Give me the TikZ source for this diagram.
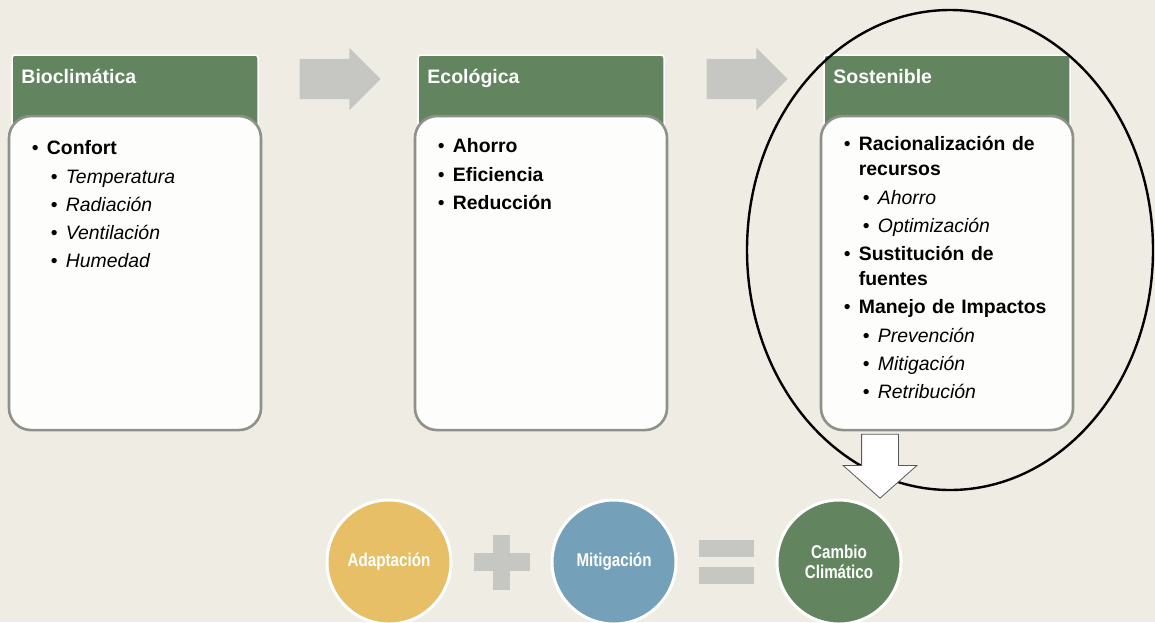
\documentclass[tikz,border=0pt]{standalone}
\usepackage{fontspec}
\setmainfont{Liberation Sans}
\newfontfamily\narrowsans[FakeStretch=0.82]{Liberation Sans}
\usetikzlibrary{positioning,calc,shapes.arrows}
\definecolor{paper}{HTML}{EFECE4}
\definecolor{leaf}{HTML}{62855F}
\definecolor{rim}{HTML}{8E908A}
\definecolor{ash}{HTML}{C6C6C3}
\definecolor{sun}{HTML}{E6BF66}
\definecolor{sky}{HTML}{74A0BA}
\definecolor{sheet}{HTML}{FDFDFB}
\newcommand{\mainpoint}[1]{\makebox[15pt][l]{\textbullet}\textbf{#1}}
\newcommand{\mainwrap}[1]{\hspace*{15pt}\textbf{#1}}
\newcommand{\subpoint}[1]{\hspace*{19pt}\makebox[15pt][l]{\textbullet}\textit{#1}}

\begin{document}
\begin{tikzpicture}[x=1pt,y=-1pt,
  head/.style={draw=white,line width=1.5pt,fill=leaf,rounded corners=3pt,
               minimum width=246pt,minimum height=75pt,inner sep=0pt},
  htxt/.style={text=white,font=\bfseries\fontsize{19.5}{22}\selectfont,
               inner sep=0pt,anchor=base west},
  body/.style={draw=rim,line width=2.6pt,rounded corners=22pt,fill=sheet,
               minimum width=252pt,minimum height=314pt,inner sep=0pt},
  lst/.style={text width=228pt,align=left,inner sep=0pt,anchor=base west,
              font=\fontsize{19.4}{28.3}\selectfont},
  blk/.style={single arrow,fill=ash,minimum height=81pt,minimum width=62pt,
              single arrow head extend=11pt,inner sep=20pt},
  circ/.style={circle,draw=white,line width=3pt,minimum size=124pt,inner sep=0pt,
               text=white,align=center,font=\narrowsans\bfseries\fontsize{18.5}{20.5}\selectfont},
  bar/.style={fill=ash,inner sep=0pt}]
\useasboundingbox (0,0) rectangle (1155,622);
\clip (0,0) rectangle (1155,622);
\fill[paper] (0,0) rectangle (1155,622);
% header tabs, left to right
\node[head](bioH) at (135,92.5){};
\node[head,right=158.5pt of bioH](ecoH){};
\node[head,right=158.5pt of ecoH](sosH){};
\node[htxt] at ([shift={(10,29)}]bioH.north west){Bioclimática};
\node[htxt] at ([shift={(10,29)}]ecoH.north west){Ecológica};
\node[htxt] at ([shift={(10,29)}]sosH.north west){Sostenible};
% gray block arrows between the tabs
\node[blk](arA) at (330,79){};
\node[blk](arB) at (737,79){};
% list cards
\node[body,below=-16pt of bioH](bioB){};
\node[body,below=-16pt of ecoH](ecoB){};
\node[body,below=-16pt of sosH](sosB){};
\node[lst](bioL) at ([shift={(24,40)}]bioB.north west){%
  \mainpoint{Confort}\\ \subpoint{Temperatura}\\ \subpoint{Radiación}\\
  \subpoint{Ventilación}\\ \subpoint{Humedad}};
\node[lst](ecoL) at ([shift={(24,38)}]ecoB.north west){%
  \mainpoint{Ahorro}\\ \mainpoint{Eficiencia}\\ \mainpoint{Reducción}};
\node[lst](sosL) at ([shift={(24,36)}]sosB.north west){%
  \mainpoint{Racionalización de}\\[-3.3pt] \mainwrap{recursos}\\
  \subpoint{Ahorro}\\ \subpoint{Optimización}\\
  \mainpoint{Sustitución de}\\[-3.3pt] \mainwrap{fuentes}\\
  \mainpoint{Manejo de Impactos}\\ \subpoint{Prevención}\\
  \subpoint{Mitigación}\\ \subpoint{Retribución}};
% ring round the last stage, then the white arrow down
\draw[line width=2.4pt] (950,250) ellipse [x radius=203pt,y radius=240pt];
\node[single arrow,shape border rotate=270,fill=white,draw=black!65,line width=0.8pt,
      minimum height=64pt,minimum width=73pt,single arrow head extend=18.5pt,
      single arrow tip angle=97,inner sep=18pt](down) at (880,458){};
% bottom equation
\node[circ,fill=sun](adap) at (389,562){Adaptación};
\node[circ,fill=sky,right=98pt of adap](miti){Mitigación};
\node[circ,fill=leaf,right=98pt of miti](clim){Cambio\\Climático};
\node[bar,minimum width=17pt,minimum height=55pt](plusV) at ($(adap)!.5!(miti)$){};
\node[bar,minimum width=56pt,minimum height=18pt](plusH) at (plusV){};
\coordinate (eq) at ($(miti)!.5!(clim)$);
\node[bar,minimum width=55pt,minimum height=17pt](eqT) at ($(eq)+(0,-13.5)$){};
\node[bar,minimum width=55pt,minimum height=17pt](eqB) at ($(eq)+(0,13.5)$){};
\end{tikzpicture}
\end{document}
